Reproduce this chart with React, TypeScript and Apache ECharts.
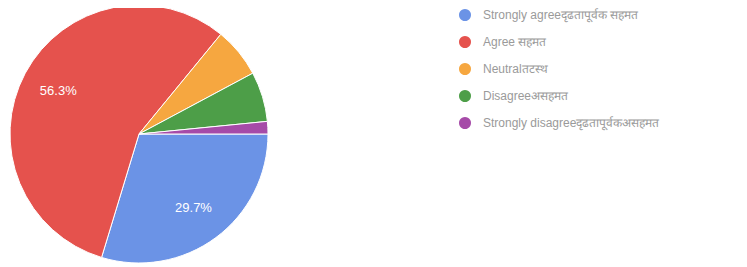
import React, { useEffect, useRef } from "react";
import * as echarts from "echarts";

const categories = [
  "Strongly agreeदृढतापूर्वक सहमत",
  "Agree सहमत",
  "Neutralतटस्थ",
  "Disagreeअसहमत",
  "Strongly disagreeदृढतापूर्वकअसहमत",
];
const counts = [19, 36, 4, 4, 1];
const colors = ["#6b93e6", "#e5524d", "#f6a740", "#4d9e48", "#a64ba8"];

export default function App() {
  const ref = useRef<HTMLDivElement>(null);
  useEffect(() => {
    if (!ref.current) return;
    const chart = echarts.init(ref.current, undefined, { renderer: "svg" });
    const total = counts.reduce((a, b) => a + b, 0);
    const data = categories.map((name, i) => ({
      name,
      value: counts[i],
      itemStyle: { color: colors[i] },
    }));
    chart.setOption({
      animation: false,
      backgroundColor: "#ffffff",
      legend: {
        orient: "vertical",
        left: 449,
        top: -1,
        padding: 0,
        icon: "circle",
        itemWidth: 14,
        itemHeight: 14,
        itemGap: 11,
        textStyle: {
          color: "#9a9a9a",
          fontSize: 12,
          padding: [0, 0, 0, 6],
          fontFamily: "Arial, 'Liberation Sans', sans-serif",
        },
        data: categories,
      },
      series: [
        {
          type: "pie",
          center: [131, 126],
          radius: [0, 129],
          startAngle: 0,
          clockwise: true,
          data,
          label: { show: false },
          labelLine: { show: false },
          itemStyle: { borderColor: "#ffffff", borderWidth: 1 },
          emphasis: { disabled: true },
        },
        {
          type: "pie",
          center: [131, 126],
          radius: [48, 129],
          startAngle: 0,
          clockwise: true,
          silent: true,
          data: data.map((d) => ({ ...d, itemStyle: { color: "rgba(0,0,0,0)" } })),
          label: {
            show: true,
            position: "inside",
            color: "#ffffff",
            fontSize: 13,
            fontFamily: "Arial, 'Liberation Sans', sans-serif",
            formatter: (p: any) =>
              p.value / total > 0.1 ? ((p.value / total) * 100).toFixed(1) + "%" : "",
          },
          labelLine: { show: false },
          emphasis: { disabled: true },
          legendHoverLink: false,
        },
      ],
    });
    return () => chart.dispose();
  }, []);
  return <div ref={ref} style={{ width: 739, height: 259 }} />;
}
